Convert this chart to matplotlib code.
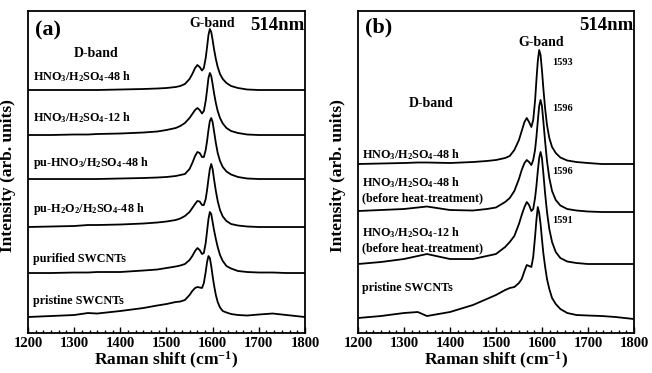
import numpy as np
import matplotlib
matplotlib.use("Agg")
import matplotlib.pyplot as plt
from matplotlib.ticker import MultipleLocator, AutoMinorLocator

# --- fonts ---
plt.rcParams['font.family'] = ['Liberation Serif', 'DejaVu Serif']
plt.rcParams['font.weight'] = 'bold'
plt.rcParams['mathtext.fontset'] = 'custom'
plt.rcParams['mathtext.rm'] = 'Liberation Serif:bold'
plt.rcParams['mathtext.bf'] = 'Liberation Serif:bold'
plt.rcParams['mathtext.it'] = 'Liberation Serif:bold'

# --- data: Raman shift grid (cm^-1) and intensities ---
shift = [1200, 1250, 1300, 1330, 1350, 1400, 1450, 1480, 1500, 1520, 1530, 1540,
         1550, 1556, 1562, 1567, 1572, 1577, 1581, 1585, 1588, 1591, 1594, 1597,
         1600, 1603, 1607, 1611, 1616, 1622, 1630, 1640, 1655, 1675, 1700, 1730,
         1760, 1800]

# panel (a), top to bottom
a_hno3_48 = [0, 0, 0, 0, 0, 0.5, 1, 1.5, 2, 3, 4, 6, 11, 16, 22, 25, 23, 19.5, 22, 32,
             43, 55, 61, 58, 50, 41, 31, 23, 16, 11, 7, 4, 2, 0.5, 0, 0, 0, 0]
a_hno3_12 = [0, 0, 0.5, 0.5, 1, 1.5, 2.5, 3.5, 5, 7, 9, 12, 17, 21, 25, 27, 25, 21.5,
             24, 34, 45, 57, 62, 59, 51, 42, 32, 24, 17, 11.5, 7, 4, 2, 0.5, 0, 0, 0, 0]
a_pu_hno3 = [0, 0, 0, 0, 0, 0.5, 1, 1.5, 2, 3, 4, 5, 10, 16, 23, 27, 26, 22, 22, 29,
             38, 49, 58, 61, 57, 48, 36, 26, 18, 12, 7.5, 4.5, 2, 0.5, 0, 0, 0, 0]
a_pu_h2o2 = [0, 0.5, 1, 2, 2, 2.5, 3.5, 4.5, 5.5, 7, 8.5, 11, 15, 19, 23, 26, 25.5, 22,
             22, 28, 37, 48, 58, 63, 58, 48, 36, 26, 17, 10.5, 6, 3, 1.5, 0.5, 0, 0, 0, 0]
a_purified = [0, 0, 0.5, 0.5, 1, 1, 2.5, 3.5, 5, 6.5, 7.5, 9, 13, 17, 22, 25, 23, 19,
              20, 30, 42, 54, 61, 59, 51, 43, 34, 26, 18, 12, 7, 4.5, 2, 1, 0.5, 0.5, 0, 0]
a_pristine = [0, 1, 2, 4, 3.5, 6, 9, 11.5, 13, 15, 15.5, 17, 22, 26, 29, 30, 29.5, 29,
              34, 45, 55, 61, 59, 51, 41, 32, 22, 15, 9.5, 6, 4.5, 3, 2, 1.5, 2.5, 3.5, 2, 0]

# panel (b), top to bottom
b_hno3_48 = [0, 0.5, 1, 1.5, 1.5, 1, 2, 3, 4, 6, 8, 14, 24, 33, 42, 46, 42, 37, 44, 63,
             84, 103, 114, 109, 94, 76, 55, 39, 26, 17, 11, 6.5, 3.5, 2, 1, 0, 0, 0]
b_hno3_48_bh = [1, 2, 3, 4.5, 5.5, 2, 1.5, 3, 4.5, 10, 14, 21, 33, 42, 49, 52, 50, 47,
                52, 62, 75, 91, 106, 112, 106, 91, 70, 51, 34, 21, 12, 6.5, 3, 1.5, 0.5, 0, 0, 0]
b_hno3_12_bh = [0, 2, 5, 8, 10, 5, 5, 8, 10, 17, 22, 28, 40, 49, 57, 62, 59, 53, 55,
                66, 78, 93, 106, 112, 106, 91, 70, 52, 35, 22, 12, 6, 2.5, 1, 0, 0, 0, 0]
b_pristine = [1, 3, 6, 7, 3, 7, 14, 20, 24, 29, 31, 32, 36, 40, 48, 54, 53, 52, 62, 82,
              99, 112, 106, 95, 80, 66, 52, 40, 30, 21, 15, 10, 6, 4, 3.5, 3, 2, 0]

a_curves = [a_hno3_48, a_hno3_12, a_pu_hno3, a_pu_h2o2, a_purified, a_pristine]
b_curves = [b_hno3_48, b_hno3_48_bh, b_hno3_12_bh, b_pristine]

a_labels = [r'HNO$_3$/H$_2$SO$_4$-48 h', r'HNO$_3$/H$_2$SO$_4$-12 h',
            r'pu-HNO$_3$/H$_2$SO$_4$-48 h', r'pu-H$_2$O$_2$/H$_2$SO$_4$-48 h',
            'purified SWCNTs', 'pristine SWCNTs']
b_labels = [r'HNO$_3$/H$_2$SO$_4$-48 h',
            r'HNO$_3$/H$_2$SO$_4$-48 h' + '\n(before heat-treatment)',
            r'HNO$_3$/H$_2$SO$_4$-12 h' + '\n(before heat-treatment)',
            'pristine SWCNTs']
b_peaks = ['1593', '1596', '1596', '1591']

# --- layout (vertical offsets of the stacked spectra) ---
a_offsets = [243, 198, 154, 106, 60, 16]
b_offsets = [169, 121, 69, 14]
a_label_y = [256, 215, 170, 124, 74, 32]
b_label_y = [178, 143, 93, 45]
b_peak_y = [271, 225, 162, 113]

fig = plt.figure(figsize=(6.52, 3.73), dpi=100)
ax_a = fig.add_axes([0.0429, 0.1072, 0.4248, 0.8633])
ax_b = fig.add_axes([0.549, 0.1072, 0.4233, 0.8633])

x = np.array(shift)
for ax in (ax_a, ax_b):
    ax.set_xlim(1200, 1800)
    ax.set_ylim(0, 322)
    ax.set_yticks([])
    ax.xaxis.set_major_locator(MultipleLocator(100))
    ax.xaxis.set_minor_locator(AutoMinorLocator(6))
    ax.tick_params(axis='x', which='major', direction='in', length=4, width=1,
                   labelsize=10.5, pad=3)
    ax.tick_params(axis='x', which='minor', direction='in', length=2, width=1)
    for sp in ax.spines.values():
        sp.set_linewidth(1.3)
    ax.set_xlabel(r'Raman shift (cm$^{-1}$)', fontsize=12.5, fontweight='bold', labelpad=0)
    ax.set_ylabel('Intensity (arb. units)', fontsize=12.5, fontweight='bold')
    ax.yaxis.set_label_coords(-0.042, 0.49)
    for lbl in ax.get_xticklabels():
        lbl.set_fontweight('bold')
    ax.text(1798, 308, '514nm', fontsize=13.5, fontweight='bold', ha='right', va='center')

# panel (a)
for y, off in zip(a_curves, a_offsets):
    ax_a.plot(x, np.array(y) + off, color='black', lw=1.3)
for lab, ly in zip(a_labels, a_label_y):
    ax_a.text(1211, ly, lab, fontsize=8.7, fontweight='bold', ha='left', va='center')
ax_a.text(1215, 303, '(a)', fontsize=16, fontweight='bold', ha='left', va='center')
ax_a.text(1598, 310, 'G-band', fontsize=10, fontweight='bold', ha='center', va='center')
ax_a.text(1347, 280, 'D-band', fontsize=10, fontweight='bold', ha='center', va='center')

# panel (b)
for y, off in zip(b_curves, b_offsets):
    ax_b.plot(x, np.array(y) + off, color='black', lw=1.3)
for lab, ly in zip(b_labels, b_label_y):
    ax_b.text(1209, ly, lab, fontsize=8.7, fontweight='bold', ha='left', va='center',
              linespacing=1.3)
for pk, py in zip(b_peaks, b_peak_y):
    ax_b.text(1622, py, pk, fontsize=7.5, fontweight='bold', ha='left', va='center')
ax_b.text(1215, 306, '(b)', fontsize=16, fontweight='bold', ha='left', va='center')
ax_b.text(1598, 291, 'G-band', fontsize=10, fontweight='bold', ha='center', va='center')
ax_b.text(1359, 230, 'D-band', fontsize=10, fontweight='bold', ha='center', va='center')

fig.savefig('out.png', dpi=100)
